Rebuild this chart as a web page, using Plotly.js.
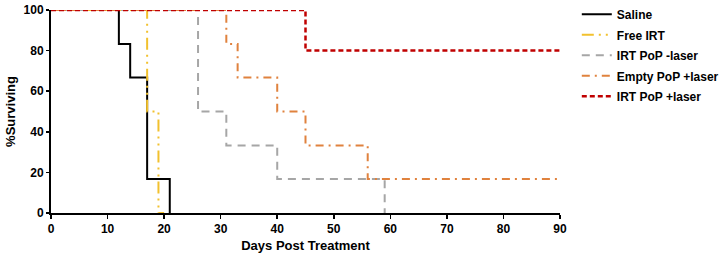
<!DOCTYPE html>
<html><head><meta charset="utf-8">
<script src="https://cdn.plot.ly/plotly-3.0.1.min.js"></script>
<style>body{margin:0;background:#fff}#c{width:723px;height:258px}</style>
</head><body><div id="c"></div>
<script>
const salineX = [0, 12, 14, 17, 21, 21];
const salineY = [100, 83.3, 66.7, 16.7, 0, 0];
const freeX = [0, 17, 19, 20];
const freeY = [100, 50, 0, 0];
const popNoLaserX = [0, 26, 31, 40, 59];
const popNoLaserY = [100, 50, 33.3, 16.7, 0];
const emptyLaserX = [0, 31, 33, 40, 45, 56, 90];
const emptyLaserY = [100, 83.3, 66.7, 50, 33.3, 16.7, 16.7];
const popLaserX = [0, 45, 90];
const popLaserY = [100, 80, 80];
const names = ["Saline", "Free IRT", "IRT PoP -laser", "Empty PoP +laser", "IRT PoP +laser"];

const f = "Arial, 'Liberation Sans', sans-serif";
const traces = [
  {x: salineX, y: salineY, name: names[0], line:{color:'#000000', width:2, dash:'solid', shape:'hv'}},
  {x: freeX, y: freeY, name: names[1], line:{color:'#F2C12E', width:2, dash:'12px,5px,2px,5px,2px,5px', shape:'hv'}},
  {x: popNoLaserX, y: popNoLaserY, name: names[2], line:{color:'#A6A6A6', width:2, dash:'8px,6px', shape:'hv'}},
  {x: emptyLaserX, y: emptyLaserY, name: names[3], line:{color:'#E0823E', width:2, dash:'8px,5px,2px,5px', shape:'hv'}},
  {x: popLaserX, y: popLaserY, name: names[4], line:{color:'#C00000', width:2.5, dash:'5px,3px', shape:'hv'}}
].map((t, i) => Object.assign({type:'scatter', mode:'lines', legendgroup:'g' + i}, t));

const layout = {
  width:723, height:258,
  margin:{l:51, r:163, t:10, b:45, autoexpand:false},
  paper_bgcolor:'#fff', plot_bgcolor:'#fff',
  font:{family:f, color:'#000', size:12},
  showlegend:true,
  legend:{x:1.033, y:1.05, xanchor:'left', yanchor:'top', font:{family:f, size:12, color:'#000', weight:'bold'}, tracegroupgap:1.5, itemwidth:30, bgcolor:'rgba(0,0,0,0)'},
  xaxis:{range:[0,90], tickvals:[0,10,20,30,40,50,60,70,80,90], showgrid:false, zeroline:false,
    showline:true, linecolor:'#000', linewidth:2, ticks:'outside', ticklen:4, tickwidth:1.5, tickcolor:'#000',
    tickfont:{family:f, size:12, weight:'bold'},
    title:{text:'Days Post Treatment', font:{family:f, size:13, weight:'bold'}, standoff:5}},
  yaxis:{range:[0,100], tickvals:[0,20,40,60,80,100], showgrid:false, zeroline:false,
    showline:true, linecolor:'#000', linewidth:2, ticks:'outside', ticklen:3, tickwidth:1.5, tickcolor:'#000',
    tickfont:{family:f, size:12, weight:'bold'},
    title:{text:'%Surviving', font:{family:f, size:13, weight:'bold'}, standoff:5}}
};
Plotly.newPlot('c', traces, layout, {displayModeBar:false, staticPlot:true});
</script></body></html>
